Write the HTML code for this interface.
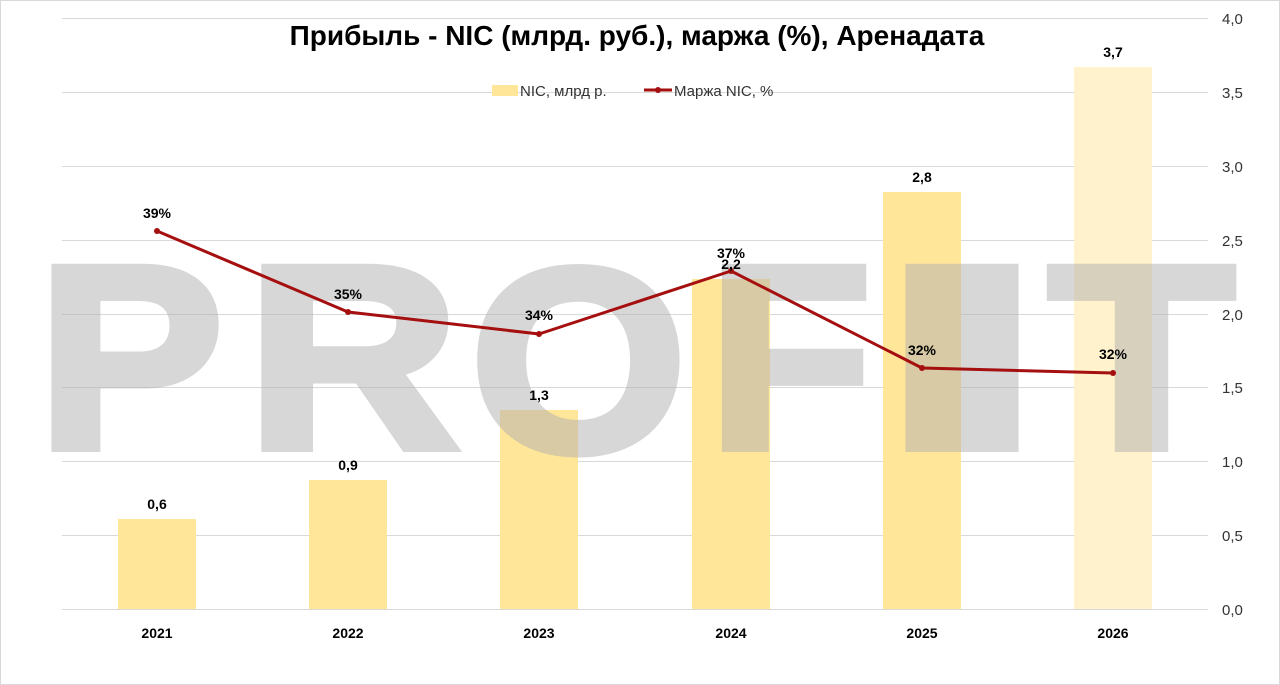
<!DOCTYPE html>
<html><head><meta charset="utf-8"><style>html,body{margin:0;padding:0;background:#fff}svg{display:block}</style></head>
<body>
<svg width="1280" height="685" viewBox="0 0 1280 685" xmlns="http://www.w3.org/2000/svg" font-family="'Liberation Sans','DejaVu Sans',sans-serif">
<rect x="0.5" y="0.5" width="1279" height="684" fill="#fff" stroke="#d9d9d9"/>
<g stroke="#d9d9d9" stroke-width="1">
<line x1="62" x2="1208" y1="18.5" y2="18.5"/><line x1="62" x2="1208" y1="92.5" y2="92.5"/>
<line x1="62" x2="1208" y1="166.5" y2="166.5"/><line x1="62" x2="1208" y1="240.5" y2="240.5"/>
<line x1="62" x2="1208" y1="314.5" y2="314.5"/><line x1="62" x2="1208" y1="387.5" y2="387.5"/>
<line x1="62" x2="1208" y1="461.5" y2="461.5"/><line x1="62" x2="1208" y1="535.5" y2="535.5"/>
<line x1="62" x2="1208" y1="609.5" y2="609.5"/>
</g>
<g fill="#ffe699">
<rect x="118" y="519" width="78" height="90"/>
<rect x="309" y="480" width="78" height="129"/>
<rect x="500" y="410" width="78" height="199"/>
<rect x="692" y="279" width="78" height="330"/>
<rect x="883" y="192" width="78" height="417"/>
<rect x="1074" y="67" width="78" height="542" fill="#fff2cc"/>
</g>
<g font-size="262" font-weight="bold" fill="#b0b0b0" stroke="#b0b0b0" stroke-width="8" stroke-linejoin="miter" opacity="0.5">
<text x="37" y="448" textLength="187" lengthAdjust="spacingAndGlyphs">P</text>
<text x="246" y="448" textLength="214" lengthAdjust="spacingAndGlyphs">R</text>
<text x="470" y="451" textLength="217" lengthAdjust="spacingAndGlyphs">O</text>
<text x="708" y="448" textLength="164" lengthAdjust="spacingAndGlyphs">F</text>
<text x="872" y="448" textLength="180" lengthAdjust="spacingAndGlyphs">I</text>
<text x="1048" y="448" textLength="187" lengthAdjust="spacingAndGlyphs">T</text>
</g>
<polyline points="157,231 348,312 539,334 731,271 922,368 1113,373" fill="none" stroke="#a50f0f" stroke-width="3" stroke-linejoin="round"/>
<g fill="#a50f0f"><circle cx="157" cy="231" r="3"/><circle cx="348" cy="312" r="3"/><circle cx="539" cy="334" r="3"/><circle cx="731" cy="271" r="3"/><circle cx="922" cy="368" r="3"/><circle cx="1113" cy="373" r="3"/></g>
<g font-size="14" font-weight="bold" text-anchor="middle" fill="#000">
<text x="157" y="218">39%</text><text x="348" y="299">35%</text><text x="539" y="320">34%</text><text x="731" y="258">37%</text><text x="922" y="355">32%</text><text x="1113" y="359">32%</text>
<text x="157" y="509">0,6</text><text x="348" y="470">0,9</text><text x="539" y="400">1,3</text><text x="731" y="269">2,2</text><text x="922" y="182">2,8</text><text x="1113" y="57">3,7</text>
<text x="157" y="638">2021</text><text x="348" y="638">2022</text><text x="539" y="638">2023</text><text x="731" y="638">2024</text><text x="922" y="638">2025</text><text x="1113" y="638">2026</text>
</g>
<g font-size="15" fill="#333" text-anchor="start">
<text x="1222" y="24">4,0</text><text x="1222" y="98">3,5</text><text x="1222" y="172">3,0</text><text x="1222" y="246">2,5</text><text x="1222" y="320">2,0</text><text x="1222" y="393">1,5</text><text x="1222" y="467">1,0</text><text x="1222" y="541">0,5</text><text x="1222" y="615">0,0</text>
</g>
<text x="637" y="45" font-size="28" font-weight="bold" text-anchor="middle" fill="#000">Прибыль - NIC (млрд. руб.), маржа (%), Аренадата</text>
<rect x="492" y="85" width="26" height="11" fill="#ffe699"/>
<text x="520" y="96" font-size="15" fill="#333">NIC, млрд р.</text>
<line x1="644" x2="672" y1="90" y2="90" stroke="#a50f0f" stroke-width="3"/><circle cx="658" cy="90" r="3" fill="#a50f0f"/>
<text x="674" y="96" font-size="15" fill="#333">Маржа NIC, %</text>
</svg>
</body></html>
